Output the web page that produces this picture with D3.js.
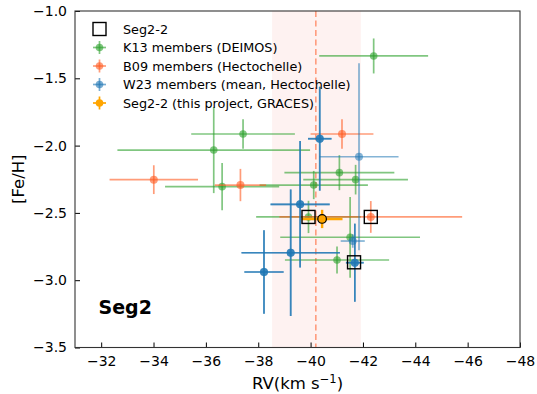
<!DOCTYPE html>
<html>
<head>
<meta charset="utf-8">
<script src="https://cdn.jsdelivr.net/npm/d3@7"></script>
<style>
  body { margin: 0; background: #fff; }
  svg { display: block; font-family: "DejaVu Sans", sans-serif; }
</style>
</head>
<body>
<svg id="chart" width="537" height="394"></svg>
<script>
// K13 members (DEIMOS)
const k13RV     = [-42.41, -37.42, -36.30, -36.62, -41.10, -41.72, -40.12, -39.92, -41.51, -41.01];
const k13FeH    = [-1.334, -1.914, -2.033, -2.305, -2.201, -2.253, -2.293, -2.530, -2.681, -2.850];
const k13RVerr  = [2.08, 1.98, 3.68, 2.18, 2.10, 2.00, 2.07, 2.00, 2.67, 1.99];
const k13FeHerr = [0.13, 0.11, 0.32, 0.175, 0.13, 0.11, 0.105, 0.12, 0.30, 0.10];

// B09 members (Hectochelle)
const b09RV     = [-34.01, -37.32, -41.20, -42.30];
const b09FeH    = [-2.253, -2.293, -1.914, -2.530];
const b09RVerr  = [1.69, 0.98, 1.20, 3.49];
const b09FeHerr = [0.107, 0.12, 0.11, 0.118];

// W23 members (mean, Hectochelle); repeat = drawn a second time on top
const w23RV     = [-40.35, -39.60, -39.24, -38.22, -41.69, -41.85, -41.61];
const w23FeH    = [-1.949, -2.436, -2.796, -2.939, -2.870, -2.083, -2.709];
const w23RVerr  = [0.45, 1.13, 1.88, 0.75, 0.34, 1.51, 0.46];
const w23FeHerr = [0.386, 0.47, 0.47, 0.31, 0.29, 0.694, 0.05];
const w23Repeat = [true, true, true, true, true, false, false];

// Seg2-2, this project (GRACES)
const gracesRV = [-40.44];
const gracesFeH = [-2.545];
const gracesRVerr = [0.78];
const gracesFeHerr = [0.068];

// Seg2-2 as measured by each survey
const seg22RV  = [-39.92, -42.30, -41.66];
const seg22FeH = [-2.530, -2.530, -2.867];

// systemic velocity and its spread
const sysRV = -40.2;
const sysRVlow = -38.53;
const sysRVhigh = -41.92;

const xTicks = [-32, -34, -36, -38, -40, -42, -44, -46, -48];
const yTicks = [-1.0, -1.5, -2.0, -2.5, -3.0, -3.5];

const legendLabels = [
  "Seg2-2",
  "K13 members (DEIMOS)",
  "B09 members (Hectochelle)",
  "W23 members (mean, Hectochelle)",
  "Seg2-2 (this project, GRACES)"
];

const svg = d3.select("#chart");
const L = 75, R = 520, T = 11, B = 347.5;

const x = d3.scaleLinear().domain([-31, -48]).range([L, R]);
const y = d3.scaleLinear().domain([-3.5, -1.0]).range([B, T]);

const C = {
  green: "#2ca02c",
  red: "#ff5a1f",
  blue: "#1f77b4",
  orange: "#ffa500"
};

// velocity band and systemic line
svg.append("rect")
  .attr("x", x(sysRVlow)).attr("y", T)
  .attr("width", x(sysRVhigh) - x(sysRVlow)).attr("height", B - T)
  .attr("fill", "#fa8072").attr("fill-opacity", 0.1);

svg.append("line")
  .attr("x1", x(sysRV)).attr("x2", x(sysRV))
  .attr("y1", T).attr("y2", B)
  .attr("stroke", "#ff8c69").attr("stroke-opacity", 0.85)
  .attr("stroke-width", 1.6).attr("stroke-dasharray", "6,3.5");

function errorbars(rv, feh, erv, efeh, color, opts) {
  const g = svg.append("g");
  const idx = d3.range(rv.length);
  const op = opts.opacity, lw = opts.lw || 1.7, r = opts.r || 4;
  idx.forEach(i => {
    const gi = g.append("g").attr("opacity", 1);
    gi.append("line")
      .attr("x1", x(rv[i] + erv[i])).attr("x2", x(rv[i] - erv[i]))
      .attr("y1", y(feh[i])).attr("y2", y(feh[i]))
      .attr("stroke", color).attr("stroke-width", lw).attr("stroke-opacity", op);
    gi.append("line")
      .attr("x1", x(rv[i])).attr("x2", x(rv[i]))
      .attr("y1", y(feh[i] + efeh[i])).attr("y2", y(feh[i] - efeh[i]))
      .attr("stroke", color).attr("stroke-width", lw).attr("stroke-opacity", op);
    gi.append("circle")
      .attr("cx", x(rv[i])).attr("cy", y(feh[i])).attr("r", r)
      .attr("fill", color).attr("fill-opacity", op)
      .attr("stroke", opts.edge || "none").attr("stroke-width", 1.2);
  });
  return g;
}

errorbars(k13RV, k13FeH, k13RVerr, k13FeHerr, C.green, {opacity: 0.6, r: 3.8});
errorbars(b09RV, b09FeH, b09RVerr, b09FeHerr, C.red, {opacity: 0.6, r: 4});
errorbars(w23RV, w23FeH, w23RVerr, w23FeHerr, C.blue, {opacity: 0.55, r: 4});
{
  const sel = d3.range(w23RV.length).filter(i => w23Repeat[i]);
  errorbars(sel.map(i => w23RV[i]), sel.map(i => w23FeH[i]),
            sel.map(i => w23RVerr[i]), sel.map(i => w23FeHerr[i]),
            C.blue, {opacity: 0.75, r: 4});
}
errorbars(gracesRV, gracesFeH, gracesRVerr, gracesFeHerr, C.orange,
          {opacity: 1, r: 4.3, lw: 2.4, edge: "#000"});

// Seg2-2 squares
svg.append("g").selectAll("rect")
  .data(d3.range(seg22RV.length))
  .join("rect")
  .attr("x", i => x(seg22RV[i]) - 6.5)
  .attr("y", i => y(seg22FeH[i]) - 6.5)
  .attr("width", 13).attr("height", 13)
  .attr("fill", "none").attr("stroke", "#000").attr("stroke-width", 1.4);

// axes: inward ticks, full frame
const xAxis = d3.axisBottom(x).tickValues(xTicks).tickSize(-5).tickPadding(9)
  .tickFormat(d3.format("d"));
const yAxis = d3.axisLeft(y).tickValues(yTicks).tickSize(-5).tickPadding(8)
  .tickFormat(d3.format(".1f"));

const gx = svg.append("g").attr("transform", `translate(0,${B})`).call(xAxis);
const gy = svg.append("g").attr("transform", `translate(${L},0)`).call(yAxis);
[gx, gy].forEach(g => {
  g.select(".domain").remove();
  g.selectAll(".tick line").attr("stroke", "#000").attr("stroke-width", 1);
  g.selectAll(".tick text").attr("fill", "#000")
    .style("font-size", "14px").style("font-family", "DejaVu Sans, sans-serif");
});

svg.append("rect")
  .attr("x", L).attr("y", T).attr("width", R - L).attr("height", B - T)
  .attr("fill", "none").attr("stroke", "#333").attr("stroke-width", 1.1);

// axis titles
const xt = svg.append("text")
  .attr("x", (L + R) / 2).attr("y", 389)
  .attr("text-anchor", "middle").style("font-size", "16.5px");
xt.append("tspan").text("RV(km s");
xt.append("tspan").attr("dy", -6).style("font-size", "11.5px").text("−1");
xt.append("tspan").attr("dy", 6).text(")");

svg.append("text")
  .attr("transform", `translate(24,${(T + B) / 2}) rotate(-90)`)
  .attr("text-anchor", "middle").style("font-size", "16.5px")
  .text("[Fe/H]");

// panel tag
svg.append("text")
  .attr("x", x(-31.9)).attr("y", y(-3.25))
  .style("font-size", "19px").style("font-weight", "bold")
  .text("Seg2");

// legend
const lg = svg.append("g");
const legY0 = 29, legDy = 18.5, mx = 99.5, tx = 123;
legendLabels.forEach((lab, i) => {
  const cy = legY0 + i * legDy;
  if (i === 0) {
    lg.append("rect").attr("x", mx - 6.5).attr("y", cy - 6.5)
      .attr("width", 13).attr("height", 13)
      .attr("fill", "none").attr("stroke", "#000").attr("stroke-width", 1.4);
  } else {
    const col = [C.green, C.red, C.blue, C.orange][i - 1];
    const op = i === 4 ? 1 : 0.6;
    lg.append("line").attr("x1", mx - 6.5).attr("x2", mx + 6.5)
      .attr("y1", cy).attr("y2", cy)
      .attr("stroke", col).attr("stroke-width", 1.7).attr("stroke-opacity", op);
    lg.append("line").attr("x1", mx).attr("x2", mx)
      .attr("y1", cy - 6.5).attr("y2", cy + 6.5)
      .attr("stroke", col).attr("stroke-width", 1.7).attr("stroke-opacity", op);
    lg.append("circle").attr("cx", mx).attr("cy", cy).attr("r", 3.8)
      .attr("fill", col).attr("fill-opacity", op);
  }
  lg.append("text").attr("x", tx).attr("y", cy).attr("dy", "0.36em")
    .style("font-size", "12.8px").text(lab);
});
</script>
</body>
</html>
